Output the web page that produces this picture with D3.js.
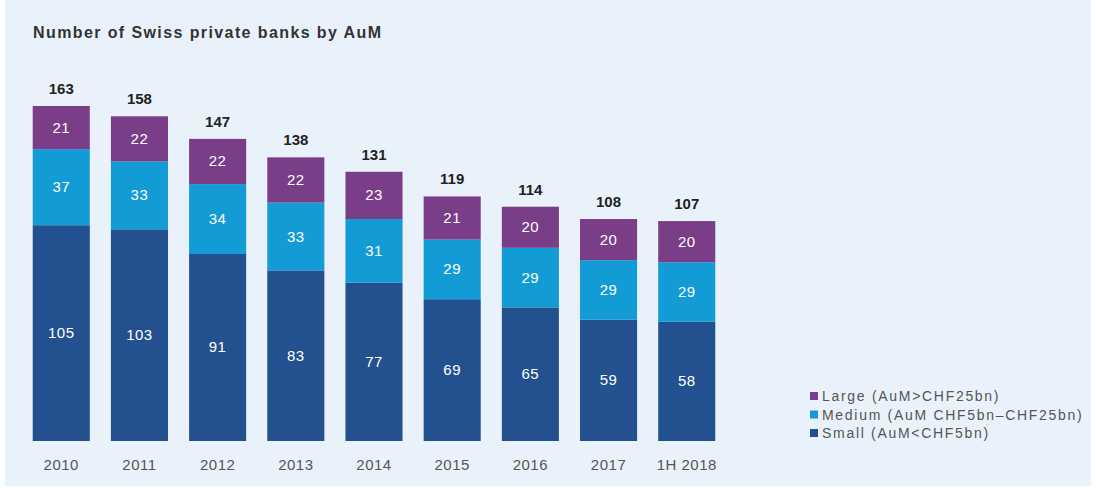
<!DOCTYPE html>
<html>
<head>
<meta charset="utf-8">
<script src="https://cdn.jsdelivr.net/npm/d3@7"></script>
<style>
  html, body { margin: 0; padding: 0; background: #ffffff; }
  svg { display: block; font-family: "Liberation Sans", Arial, sans-serif; }
</style>
</head>
<body>
<div id="chart"></div>
<script>
// Data
const years = ['2010', '2011', '2012', '2013', '2014', '2015', '2016', '2017', '1H 2018'];
const small = [105, 103, 91, 83, 77, 69, 65, 59, 58];
const medium = [37, 33, 34, 33, 31, 29, 29, 29, 29];
const large = [21, 22, 22, 22, 23, 21, 20, 20, 20];
const totals = [163, 158, 147, 138, 131, 119, 114, 108, 107];
const seriesKeys = ['small', 'medium', 'large'];
const seriesLabels = {
  large: 'Large (AuM>CHF25bn)',
  medium: 'Medium (AuM CHF5bn\u2013CHF25bn)',
  small: 'Small (AuM<CHF5bn)'
};

const colors = {
  small: '#23518f',
  medium: '#139bd6',
  large: '#7a3d88',
  bg: '#e9f2fb',
  text: '#333333',
  axisText: '#555555'
};

const width = 1096;
const height = 488;

const rows = years.map((y, i) => ({ year: y, small: small[i], medium: medium[i], large: large[i], total: totals[i] }));
const stacked = d3.stack().keys(seriesKeys)(rows);

const svg = d3.select('#chart').append('svg')
  .attr('width', width)
  .attr('height', height);

// Panel background
svg.append('rect')
  .attr('x', 5).attr('y', 0)
  .attr('width', width - 10).attr('height', 486)
  .attr('fill', colors.bg);

// Title
svg.append('text')
  .attr('x', 33).attr('y', 38)
  .attr('fill', colors.text)
  .attr('font-size', '16px')
  .style('letter-spacing', '1.4px')
  .style('font-weight', 'bold')
  .text('Number of Swiss private banks by AuM');

// Scales
const x = d3.scaleBand()
  .domain(years)
  .range([21, 727])
  .paddingInner(0.27)
  .paddingOuter(0.15);

const y = d3.scaleLinear()
  .domain([0, 163])
  .range([441, 106]);

// Stacked bars
const layer = svg.append('g').selectAll('g')
  .data(stacked)
  .enter().append('g')
  .attr('fill', d => colors[d.key]);

layer.selectAll('rect')
  .data(d => d)
  .enter().append('rect')
  .attr('x', d => x(d.data.year))
  .attr('y', d => y(d[1]))
  .attr('width', x.bandwidth())
  .attr('height', d => y(d[0]) - y(d[1]));

// Segment labels
layer.selectAll('text')
  .data(d => d)
  .enter().append('text')
  .attr('x', d => x(d.data.year) + x.bandwidth() / 2)
  .attr('y', d => (y(d[0]) + y(d[1])) / 2 + 5)
  .attr('text-anchor', 'middle')
  .attr('fill', '#ffffff')
  .attr('font-size', '15px')
  .style('letter-spacing', '0.5px')
  .text(d => d[1] - d[0]);

// Totals
svg.append('g').selectAll('text')
  .data(rows)
  .enter().append('text')
  .attr('x', d => x(d.year) + x.bandwidth() / 2)
  .attr('y', d => y(d.total) - 12)
  .attr('text-anchor', 'middle')
  .attr('fill', '#222222')
  .attr('font-size', '15px')
  .style('font-weight', 'bold')
  .text(d => d.total);

// X axis labels
const xAxis = svg.append('g')
  .attr('transform', 'translate(0,441)')
  .call(d3.axisBottom(x).tickSize(0).tickPadding(18));
xAxis.select('.domain').remove();
xAxis.selectAll('text')
  .attr('fill', colors.axisText)
  .attr('font-size', '15px')
  .style('letter-spacing', '0.5px')
  .attr('font-family', '"Liberation Sans", Arial, sans-serif');

// Legend
const legendItems = ['large', 'medium', 'small'];
const legend = svg.append('g')
  .attr('transform', 'translate(810, 396)');

legendItems.forEach((k, i) => {
  const item = legend.append('g')
    .attr('transform', `translate(0, ${i * 18.5})`);
  item.append('rect')
    .attr('x', 0).attr('y', -4)
    .attr('width', 8).attr('height', 8)
    .attr('fill', colors[k]);
  item.append('text')
    .attr('x', 12).attr('y', 5)
    .attr('fill', colors.axisText)
    .attr('font-size', '14px')
    .style('letter-spacing', '1.7px')
    .text(seriesLabels[k]);
});
</script>
</body>
</html>
